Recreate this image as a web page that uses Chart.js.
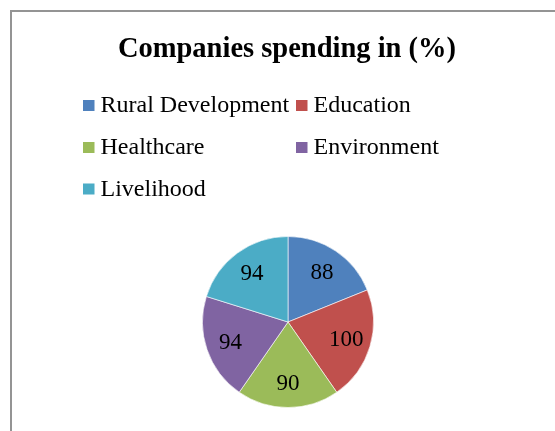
<!DOCTYPE html>
<html>
<head>
<meta charset="utf-8">
<script src="https://cdn.jsdelivr.net/npm/chart.js@4/dist/chart.umd.min.js"></script>
<style>
  html, body { margin: 0; padding: 0; background: #fff; }
  #wrap { width: 555px; height: 431px; position: relative; }
</style>
</head>
<body>
<div id="wrap"><canvas id="pieChart" width="555" height="431"></canvas></div>
<script>
const titleText = 'Companies spending in (%)';
const categories = ['Rural Development', 'Education', 'Healthcare', 'Environment', 'Livelihood'];
const spending = [88, 100, 90, 94, 94];
const sliceColors = ['#4F81BD', '#C0504D', '#9BBB59', '#8064A2', '#4BACC6'];

const serif = '"Liberation Serif", "Times New Roman", serif';

// frame, title, two-column legend and slice labels
const decorations = {
    id: 'decorations',
    afterDraw(chart) {
        const ctx = chart.ctx;
        ctx.save();
        ctx.strokeStyle = '#949494';
        ctx.lineWidth = 2;
        ctx.beginPath();
        ctx.moveTo(11, 431);
        ctx.lineTo(11, 11);
        ctx.lineTo(555, 11);
        ctx.stroke();

        ctx.fillStyle = '#000';
        ctx.font = 'bold 28.5px ' + serif;
        ctx.textAlign = 'center';
        ctx.textBaseline = 'alphabetic';
        ctx.fillText(titleText, 287, 57);

        ctx.font = '24px ' + serif;
        ctx.textAlign = 'left';
        const colX = [83, 296];
        const rowY = [105.5, 147.5, 189];
        categories.forEach((c, i) => {
            const x = colX[i % 2];
            const y = rowY[Math.floor(i / 2)];
            ctx.fillStyle = sliceColors[i];
            ctx.fillRect(x, y - 5.5, 11.5, 11);
            ctx.fillStyle = '#000';
            ctx.fillText(c, x + 17.5, y + 6.5);
        });

        const meta = chart.getDatasetMeta(0);
        ctx.font = '23px ' + serif;
        ctx.textAlign = 'center';
        ctx.textBaseline = 'middle';
        meta.data.forEach((arc, i) => {
            const p = arc.getProps(['x', 'y', 'startAngle', 'endAngle', 'outerRadius']);
            const mid = (p.startAngle + p.endAngle) / 2;
            const r = p.outerRadius * 0.71;
            ctx.fillText(String(spending[i]), p.x + Math.cos(mid) * r, p.y + Math.sin(mid) * r + 1);
        });
        ctx.restore();
    }
};

new Chart(document.getElementById('pieChart'), {
    type: 'pie',
    data: {
        labels: categories,
        datasets: [{
            data: spending,
            backgroundColor: sliceColors,
            borderColor: 'rgba(255,255,255,0.6)',
            borderWidth: 1
        }]
    },
    options: {
        responsive: false,
        animation: false,
        layout: { padding: { left: 202, right: 181, top: 236, bottom: 23 } },
        plugins: {
            legend: { display: false },
            title: { display: false },
            tooltip: { enabled: false }
        }
    },
    plugins: [decorations]
});
</script>
</body>
</html>
